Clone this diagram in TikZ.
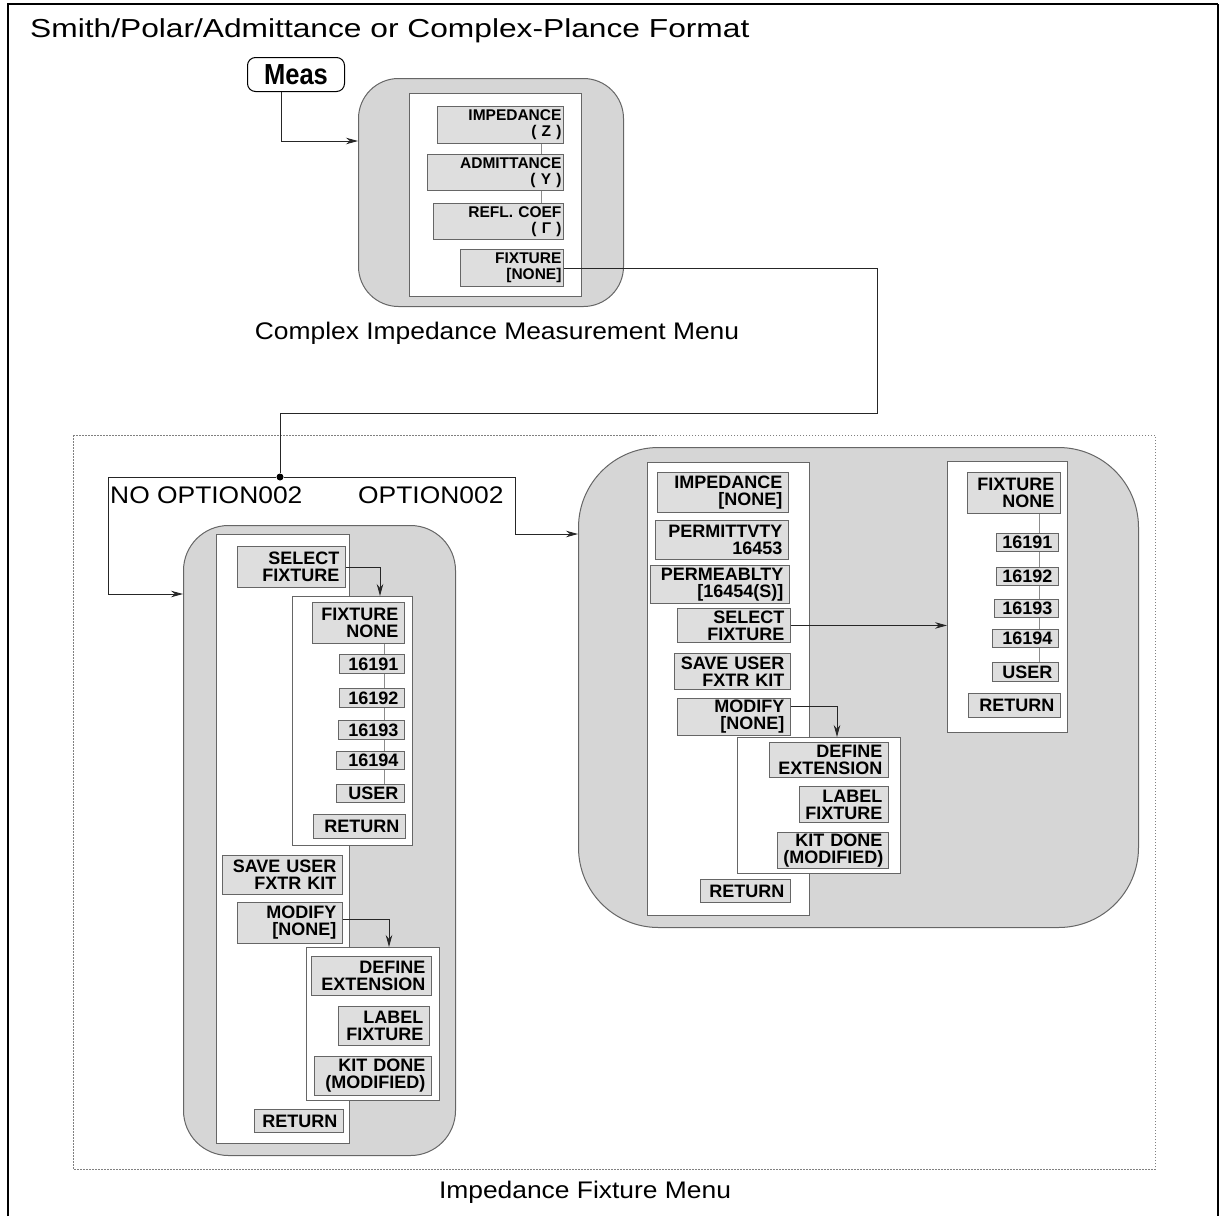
\documentclass[tikz,border=0pt]{standalone}
\usepackage{fontspec}
\setmainfont{Liberation Sans}
\newfontfamily\lblfont[FakeStretch=1.1]{Liberation Sans}
\newfontfamily\titlefont[FakeStretch=1.22]{Liberation Sans}
\newfontfamily\measfont[FakeStretch=0.88]{Liberation Sans}
\usetikzlibrary{arrows.meta}
\definecolor{boxgray}{gray}{0.84}
\definecolor{btngray}{gray}{0.87}
\definecolor{edgegray}{gray}{0.40}
\definecolor{linkgray}{gray}{0.55}
\tikzset{
  btn/.style={draw=edgegray, fill=btngray, line width=0.9pt,
    font=\bfseries\fontsize{18}{17}\selectfont, inner ysep=0pt},
  topbtn/.style={btn, font=\bfseries\fontsize{15.5}{16}\selectfont},
  panel/.style={draw=edgegray, fill=white, line width=1pt},
  bigbox/.style={draw=edgegray, fill=boxgray, line width=1pt},
  conn/.style={draw=black!85, line width=0.9pt},
  arr/.style={conn, -{Stealth[length=12pt,width=6.5pt]}},
  link/.style={draw=linkgray, line width=0.9pt},
  lbl/.style={font=\lblfont\fontsize{24}{24}\selectfont, inner sep=0pt},
  frameline/.style={draw=black, line width=2.5pt},
  fixframe/.style={draw=gray, line width=0.8pt, dash pattern=on 1.5pt off 1.5pt}
}
\def\bpad{6}
% rectangle node: [opts]{name}{x1}{y1}{x2}{y2}
\newcommand\rectnode[6][]{%
  \pgfmathsetmacro\rw{#5-#3}\pgfmathsetmacro\rh{#6-#4}%
  \node[#1, minimum width=\rw pt, minimum height=\rh pt, inner sep=0pt,
    anchor=north west] (#2) at (#3,#4) {};}
% button node: [opts]{name}{x1}{y1}{x2}{y2}{text}
\newcommand\mbtn[7][]{%
  \pgfmathsetmacro\rw{#5-#3}\pgfmathsetmacro\rh{#6-#4}%
  \pgfmathsetmacro\tw{\rw-2*\bpad}%
  \node[btn, #1, minimum width=\rw pt, minimum height=\rh pt,
    inner xsep=\bpad pt, text width=\tw pt, align=right,
    anchor=north west] (#2) at (#3,#4) {#7};}
\begin{document}
\begin{tikzpicture}[x=1pt, y=-1pt]
\useasboundingbox (0,0) rectangle (1220,1216);
% outer frame
\draw[frameline] (8,1216) -- (8,4) -- (1218,4);
\draw[draw=black, line width=1.2pt] (1218,4) -- (1218,1216);
\node[font=\titlefont\fontsize{26}{26}\selectfont, inner sep=0pt, anchor=base west]
  (title) at (30,37) {Smith/Polar/Admittance or Complex-Plance Format};

% Meas key
\node[draw=black, fill=white, rounded corners=8pt, line width=1pt,
  minimum width=97pt, minimum height=34pt, inner sep=0pt,
  font=\measfont\bfseries\fontsize{29}{29}\selectfont, anchor=north west] (meas) at (247,57) {Meas};

% ---------- Complex Impedance Measurement Menu ----------
\rectnode[bigbox, rounded corners=40pt]{cbox}{358}{78}{623}{306}
\rectnode[panel]{cpanel}{409}{93}{581}{296}
\begingroup
\def\bpad{2}
\mbtn[topbtn]{tZ}{437}{106}{563}{143}{IMPEDANCE\\( Z )}
\mbtn[topbtn]{tY}{427}{154}{563}{190}{ADMITTANCE\\( Y )}
\mbtn[topbtn]{tG}{433}{203}{563}{239}{REFL. COEF\\( Γ )}
\mbtn[topbtn]{tF}{460}{249}{563}{286}{FIXTURE\\{}[NONE]}
\endgroup
\draw[link] (tZ.south -| 541,0) -- (tY.north -| 541,0);
\draw[link] (tY.south -| 541,0) -- (tG.north -| 541,0);
\node[lbl, anchor=base] (clabel) at (497,339) {Complex Impedance Measurement Menu};

\draw[arr] (meas.south -| 281,0) |- (cbox.west |- 0,141);

% ---------- Impedance Fixture Menu frame ----------
\draw[fixframe] (73,435) rectangle (1155,1169);
\node[lbl, anchor=base] (flabel) at (585,1198) {Impedance Fixture Menu};
\node[lbl, anchor=base west] (noopt) at (110,503) {NO OPTION002};
\node[lbl, anchor=base west] (opt) at (358,503) {OPTION002};

% ---------- left fixture menu (no option 002) ----------
\rectnode[bigbox, rounded corners=45pt]{lbox}{183}{525}{455}{1155}
\rectnode[panel]{lpanel}{216}{534}{349}{1143}
\mbtn{lsel}{237}{546}{345}{587}{SELECT\\FIXTURE}
\rectnode[panel]{lsub}{292}{596}{412}{845}
\mbtn{lfn}{312}{602}{404}{643}{FIXTURE\\NONE}
\mbtn{la}{339}{654}{404}{673}{16191}
\mbtn{lb}{339}{688}{404}{707}{16192}
\mbtn{lc}{338}{720}{404}{739}{16193}
\mbtn{ld}{336}{751}{404}{769}{16194}
\mbtn{lu}{336}{784}{404}{802}{USER}
\mbtn{lr}{313}{814}{405}{838}{RETURN}
\draw[link] (lfn.south -| 384,0) -- (la.north -| 384,0);
\draw[link] (la.south -| 384,0) -- (lb.north -| 384,0);
\draw[link] (lb.south -| 384,0) -- (lc.north -| 384,0);
\draw[link] (lc.south -| 384,0) -- (ld.north -| 384,0);
\draw[link] (ld.south -| 384,0) -- (lu.north -| 384,0);
\mbtn{lsave}{222}{855}{342}{894}{SAVE USER\\FXTR KIT}
\mbtn{lmod}{237}{902}{342}{943}{MODIFY\\{}[NONE]}
\rectnode[panel]{lsubb}{306}{947}{439}{1100}
\mbtn{ldef}{311}{956}{431}{995}{DEFINE\\EXTENSION}
\mbtn{llab}{338}{1006}{429}{1045}{LABEL\\FIXTURE}
\mbtn{lkit}{314}{1056}{431}{1095}{KIT DONE\\(MODIFIED)}
\mbtn{lret}{254}{1109}{343}{1132}{RETURN}
\draw[arr] (lsel.east) -| (lsub.north -| 380,0);
\draw[arr] ([yshift=4pt]lmod.east) -| (lsubb.north -| 389,0);

% ---------- right fixture menu (option 002) ----------
\rectnode[bigbox, rounded corners=80pt]{rbox}{578}{447}{1138}{927}
\rectnode[panel]{rpanel}{647}{462}{809}{915}
\mbtn{rimp}{657}{472}{788}{512}{IMPEDANCE\\{}[NONE]}
\mbtn{rperm}{655}{520}{788}{559}{PERMITTVTY\\16453}
\mbtn{rpermb}{650}{565}{789}{603}{PERMEABLTY\\{}[16454(S)]}
\mbtn{rsel}{677}{608}{790}{642}{SELECT\\FIXTURE}
\mbtn{rsave}{674}{653}{790}{689}{SAVE USER\\FXTR KIT}
\mbtn{rmod}{677}{698}{790}{735}{MODIFY\\{}[NONE]}
\rectnode[panel]{rsubb}{737}{737}{900}{873}
\mbtn{rdef}{769}{742}{888}{777}{DEFINE\\EXTENSION}
\mbtn{rlab}{799}{786}{888}{822}{LABEL\\FIXTURE}
\mbtn{rkit}{777}{832}{888}{868}{KIT DONE\\(MODIFIED)}
\mbtn{rret}{700}{879}{790}{902}{RETURN}
\rectnode[panel]{rsub}{947}{461}{1067}{732}
\mbtn{rfn}{967}{472}{1060}{513}{FIXTURE\\NONE}
\mbtn{ra}{996}{533}{1058}{551}{16191}
\mbtn{rb}{996}{567}{1058}{585}{16192}
\mbtn{rc}{994}{599}{1058}{617}{16193}
\mbtn{rd}{992}{629}{1058}{647}{16194}
\mbtn{ru}{992}{662}{1058}{681}{USER}
\mbtn{rr}{968}{693}{1060}{717}{RETURN}
\draw[link] (rfn.south -| 1039,0) -- (ra.north -| 1039,0);
\draw[link] (ra.south -| 1039,0) -- (rb.north -| 1039,0);
\draw[link] (rb.south -| 1039,0) -- (rc.north -| 1039,0);
\draw[link] (rc.south -| 1039,0) -- (rd.north -| 1039,0);
\draw[link] (rd.south -| 1039,0) -- (ru.north -| 1039,0);
\draw[arr] (rsel.east) -- (rsel.east -| rsub.west);
\draw[arr] ([yshift=11pt]rmod.east) -| (rsubb.north -| 837,0);

% ---------- FIXTURE connector and branch ----------
\node[circle, fill=black, inner sep=0pt, minimum size=7pt] (split) at (280,477) {};
\draw[conn] (tF.east) -| (877,413) -| (split);
\draw[arr] (split) -| (108,594) -- (lbox.west |- 0,594);
\draw[arr] (split) -| (515,534) -- (rbox.west |- 0,534);
\end{tikzpicture}
\end{document}
